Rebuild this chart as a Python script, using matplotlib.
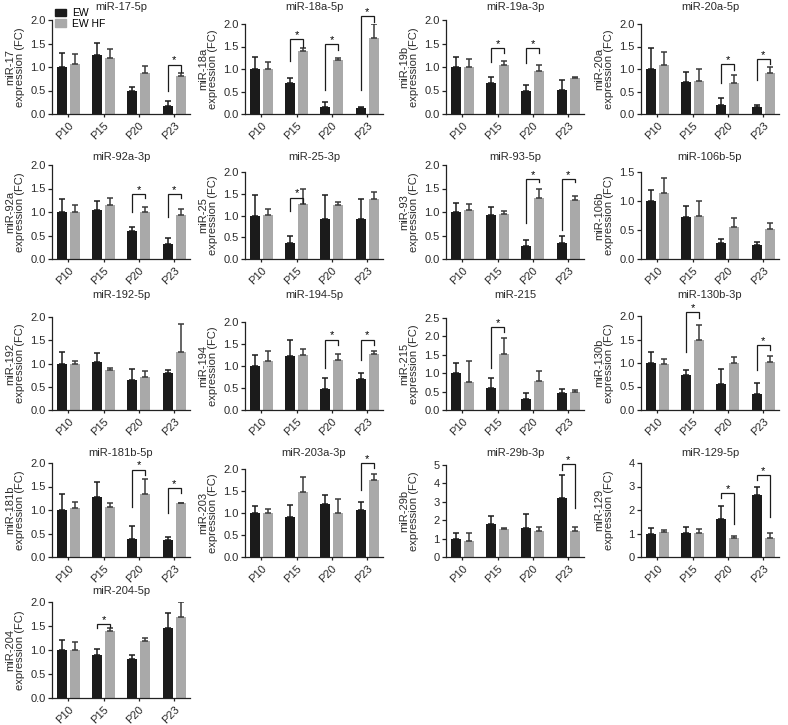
import numpy as np
import matplotlib.pyplot as plt
from matplotlib.patches import Patch

plt.rcParams['font.family'] = ['Liberation Sans', 'DejaVu Sans']

# ---- data ----
groups = ['P10', 'P15', 'P20', 'P23']

titles = ['miR-17-5p', 'miR-18a-5p', 'miR-19a-3p', 'miR-20a-5p',
          'miR-92a-3p', 'miR-25-3p', 'miR-93-5p', 'miR-106b-5p',
          'miR-192-5p', 'miR-194-5p', 'miR-215', 'miR-130b-3p',
          'miR-181b-5p', 'miR-203a-3p', 'miR-29b-3p', 'miR-129-5p',
          'miR-204-5p']
ylabels = ['miR-17', 'miR-18a', 'miR-19b', 'miR-20a',
           'miR-92a', 'miR-25', 'miR-93', 'miR-106b',
           'miR-192', 'miR-194', 'miR-215', 'miR-130b',
           'miR-181b', 'miR-203', 'miR-29b', 'miR-129',
           'miR-204']

ew_mean = [[1.00, 1.26, 0.50, 0.18], [1.00, 0.70, 0.16, 0.13],
           [1.00, 0.65, 0.50, 0.52], [1.00, 0.72, 0.20, 0.16],
           [1.00, 1.04, 0.59, 0.31], [1.00, 0.37, 0.92, 0.91],
           [1.00, 0.94, 0.27, 0.34], [1.00, 0.73, 0.27, 0.24],
           [1.00, 1.04, 0.65, 0.79], [1.00, 1.22, 0.47, 0.71],
           [1.00, 0.60, 0.31, 0.45], [1.00, 0.75, 0.56, 0.33],
           [1.00, 1.27, 0.38, 0.36], [1.00, 0.90, 1.20, 1.07],
           [1.00, 1.77, 1.60, 3.22], [1.00, 1.02, 1.63, 2.64],
           [1.00, 0.89, 0.82, 1.46]]
ew_sem = [[0.30, 0.25, 0.07, 0.10], [0.27, 0.11, 0.11, 0.03],
          [0.22, 0.13, 0.11, 0.21], [0.47, 0.22, 0.15, 0.03],
          [0.27, 0.19, 0.10, 0.13], [0.48, 0.17, 0.56, 0.46],
          [0.20, 0.17, 0.14, 0.15], [0.19, 0.18, 0.08, 0.06],
          [0.25, 0.19, 0.24, 0.06], [0.25, 0.37, 0.26, 0.13],
          [0.27, 0.26, 0.14, 0.13], [0.24, 0.11, 0.32, 0.25],
          [0.34, 0.32, 0.29, 0.07], [0.15, 0.29, 0.22, 0.18],
          [0.28, 0.45, 0.72, 1.21], [0.22, 0.24, 0.56, 0.32],
          [0.20, 0.14, 0.07, 0.31]]
hf_mean = [[1.06, 1.19, 0.87, 0.81], [0.99, 1.40, 1.20, 1.70],
           [1.01, 1.04, 0.92, 0.76], [1.10, 0.73, 0.70, 0.91],
           [0.99, 1.14, 0.99, 0.93], [1.01, 1.27, 1.24, 1.38],
           [1.05, 0.95, 1.29, 1.26], [1.14, 0.74, 0.56, 0.51],
           [0.98, 0.86, 0.72, 1.24], [1.12, 1.26, 1.13, 1.28],
           [0.76, 1.51, 0.78, 0.50], [0.97, 1.48, 1.00, 1.03],
           [1.04, 1.07, 1.33, 1.14], [0.99, 1.48, 0.99, 1.76],
           [0.87, 1.52, 1.41, 1.40], [1.05, 1.01, 0.82, 0.82],
           [0.99, 1.40, 1.19, 1.69]]
hf_sem = [[0.21, 0.19, 0.16, 0.06], [0.17, 0.06, 0.04, 0.29],
          [0.15, 0.09, 0.12, 0.03], [0.27, 0.26, 0.16, 0.13],
          [0.16, 0.15, 0.12, 0.14], [0.13, 0.35, 0.08, 0.16],
          [0.11, 0.08, 0.20, 0.08], [0.25, 0.26, 0.14, 0.11],
          [0.08, 0.04, 0.11, 0.60], [0.22, 0.12, 0.15, 0.05],
          [0.56, 0.45, 0.27, 0.03], [0.12, 0.33, 0.13, 0.11],
          [0.13, 0.07, 0.33, 0.01], [0.11, 0.34, 0.32, 0.12],
          [0.41, 0.08, 0.24, 0.23], [0.11, 0.17, 0.09, 0.22],
          [0.17, 0.05, 0.05, 0.31]]

y_max = [2, 2, 2, 2, 2, 2, 2, 1.5, 2, 2, 2.5, 2, 2, 2, 5, 4, 2]
y_step = [0.5] * 14 + [1, 1, 0.5]

# significance brackets: (group index, bracket top, left leg end, right leg end)
sig = [[(3, 1.05, 0.50, 0.90)],
       [(1, 1.67, 1.17, 1.50), (2, 1.56, 0.54, 1.42), (3, 2.18, 0.54, 2.05)],
       [(1, 1.41, 1.10, 1.29), (2, 1.41, 1.08, 1.29)],
       [(2, 1.11, 0.69, 0.98), (3, 1.22, 0.76, 1.11)],
       [(2, 1.38, 1.00, 1.29), (3, 1.38, 0.89, 1.29)],
       [(1, 1.41, 1.10, 1.28)],
       [(2, 1.70, 0.76, 1.63), (3, 1.70, 0.62, 1.63)],
       [],
       [],
       [(2, 1.60, 0.95, 1.47), (3, 1.60, 1.14, 1.47)],
       [(1, 2.25, 1.14, 2.12)],
       [(1, 2.08, 1.24, 1.96), (3, 1.38, 0.85, 1.28)],
       [(2, 1.86, 1.06, 1.75), (3, 1.46, 0.93, 1.36)],
       [(3, 2.14, 1.53, 2.02)],
       [(3, 5.04, 4.73, 2.69)],
       [(2, 2.71, 2.50, 1.40), (3, 3.50, 3.29, 1.69)],
       [(1, 1.54, 1.46, 1.47)]]

# ---- layout (pixels) ----
W, H = 788, 725
col_left = [52, 245, 446, 641]
row_bottom = [114, 259, 410, 557, 698]
row_title = [7, 157, 295, 453, 591]
panel_top = [20, 24, 20, 24, 165, 172, 165, 172,
             317, 322, 318, 316, 463, 469, 465, 463, 602]
ax_w = 138

BLACK = '#1b1b1b'
GREY = '#a9a9a9'
TXT = '#2a2a2a'
FS = 8

fig = plt.figure(figsize=(W / 100, H / 100), dpi=100)

x = np.arange(len(groups))
off, bw = 0.185, 0.28

for i in range(len(titles)):
    r, c = divmod(i, 4)
    left, bottom, top = col_left[c], row_bottom[r], panel_top[i]
    ax = fig.add_axes([left / W, 1 - bottom / H, ax_w / W, (bottom - top) / H])

    ax.bar(x - off, ew_mean[i], bw, color=BLACK,
           yerr=[np.zeros(4), ew_sem[i]],
           error_kw=dict(ecolor=BLACK, elinewidth=1.1, capsize=2, capthick=1.1))
    ax.bar(x + off, hf_mean[i], bw, color=GREY,
           yerr=[np.zeros(4), hf_sem[i]],
           error_kw=dict(ecolor='#3a3a3a', elinewidth=1.1, capsize=2, capthick=1.1))

    for g, yt, yl, yr in sig[i]:
        xl, xr = g - off, g + off
        ax.plot([xl, xl, xr, xr], [yl, yt, yt, yr], color=BLACK, lw=0.9,
                clip_on=False, solid_joinstyle='miter')
        ax.annotate('*', (g, yt), xytext=(0, 0.8), textcoords='offset points',
                    ha='center', va='baseline', fontsize=8, annotation_clip=False)

    ax.set_xlim(-0.46, 3.45)
    ax.set_ylim(0, y_max[i])
    ticks = np.arange(0, y_max[i] + 1e-9, y_step[i])
    ax.set_yticks(ticks)
    if y_step[i] < 1:
        ax.set_yticklabels([f'{t:.1f}' for t in ticks])
    else:
        ax.set_yticklabels([f'{t:.0f}' for t in ticks])
    ax.set_xticks(x)
    ax.set_xticklabels(groups)

    for s in ['top', 'right']:
        ax.spines[s].set_visible(False)
    for s in ['left', 'bottom']:
        ax.spines[s].set_color('#222222')
        ax.spines[s].set_linewidth(0.9)
    ax.tick_params(axis='y', length=3, width=0.9, pad=1.5, labelsize=FS,
                   colors='#222222', labelcolor=TXT)
    ax.tick_params(axis='x', length=2.5, width=0.9, pad=2, labelsize=FS,
                   colors='#222222', labelcolor=TXT, labelrotation=45)
    plt.setp(ax.get_xticklabels(), ha='right', rotation_mode='anchor')

    ax.set_ylabel(f'{ylabels[i]}\nexpression (FC)', fontsize=FS, linespacing=1.0,
                  color=TXT)
    ax.yaxis.set_label_coords(-27 / ax_w, 0.5)

    fig.text((left + ax_w / 2) / W, 1 - row_title[r] / H, titles[i],
             ha='center', va='center', fontsize=FS, color=TXT)

    if i == 0:
        handles = [Patch(color=BLACK, label='EW'), Patch(color=GREY, label='EW HF')]
        fig.legend(handles=handles, loc='upper left',
                   bbox_to_anchor=(55 / W, 1 - 8 / H), frameon=False,
                   fontsize=7.5, handlelength=1.1, handleheight=0.7,
                   handletextpad=0.5, labelspacing=0.05, borderpad=0,
                   borderaxespad=0)

fig.savefig('out.png', dpi=100)
